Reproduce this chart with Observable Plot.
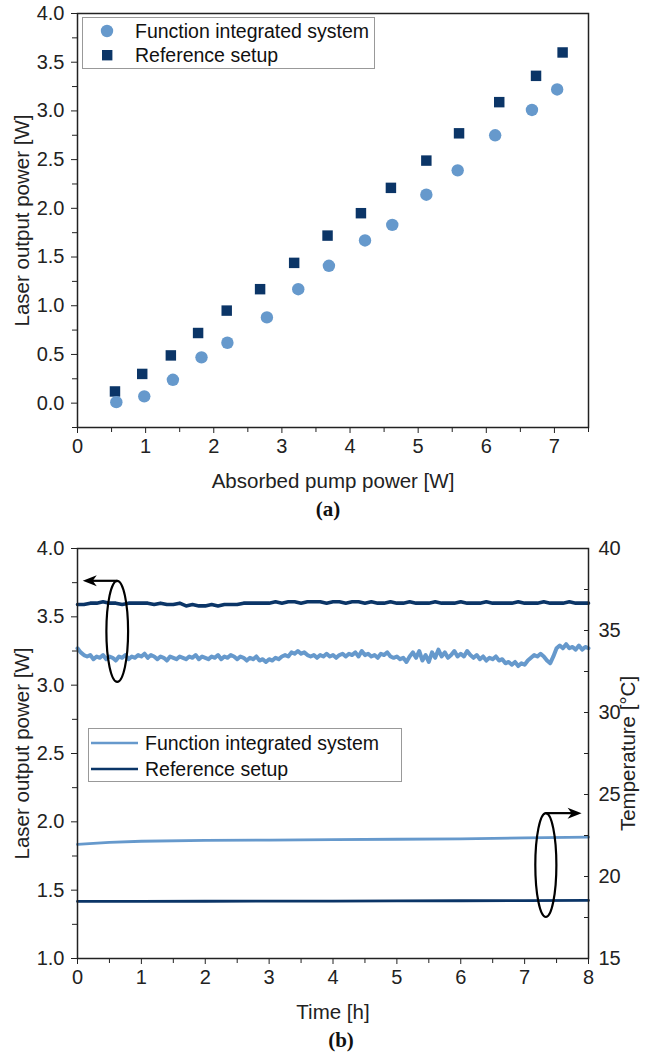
<!DOCTYPE html>
<html><head><meta charset="utf-8">
<script src="https://cdn.jsdelivr.net/npm/d3@7"></script>
<script src="https://cdn.jsdelivr.net/npm/@observablehq/plot@0.6"></script>
<style>
body{margin:0;background:#fff;width:651px;height:1058px;position:relative;overflow:hidden;font-family:"Liberation Sans",Arial,Helvetica,sans-serif;}
#a{position:absolute;left:0;top:0}
#b{position:absolute;left:0;top:535px}
svg g[aria-label$="tick label"], svg g[aria-label$="tick label"] text{font-size:20px !important;}
svg g[aria-label="x-axis label"], svg g[aria-label="x-axis label"] text,
svg g[aria-label="y-axis label"], svg g[aria-label="y-axis label"] text{font-size:20.5px !important;}
.legend{position:absolute;border:1px solid #999;background:#fff;font-size:19.5px;color:#111;box-sizing:border-box}
.legend .row{position:absolute;left:0;height:24px;line-height:24px;white-space:nowrap}
.legend svg{position:absolute;top:0}
.legend span{position:absolute;top:0}
.cap{position:absolute;font-family:"Liberation Serif","Times New Roman",serif;font-weight:bold;font-size:21px;transform:translate(-50%,-50%);color:#111}
</style></head><body>
<div id="a"></div><div id="b"></div>
<div class="cap" style="left:328px;top:509px">(a)</div>
<div class="cap" style="left:341px;top:1040px">(b)</div>
<script>
const light = "#6699cc", navy = "#0b3567";
const font = "Liberation Sans, Arial, Helvetica, sans-serif";
const seriesNames = ["Function integrated system", "Reference setup"];

// ---- (a) data ----
const pumpFIS = [0.57, 0.98, 1.40, 1.82, 2.20, 2.78, 3.24, 3.69, 4.22, 4.62, 5.12, 5.58, 6.13, 6.67, 7.04];
const outFIS  = [0.01, 0.07, 0.24, 0.47, 0.62, 0.88, 1.17, 1.41, 1.67, 1.83, 2.14, 2.39, 2.75, 3.01, 3.22];
const pumpRef = [0.55, 0.95, 1.37, 1.77, 2.19, 2.68, 3.18, 3.67, 4.16, 4.60, 5.12, 5.60, 6.19, 6.73, 7.12];
const outRef  = [0.12, 0.30, 0.49, 0.72, 0.95, 1.17, 1.44, 1.72, 1.95, 2.21, 2.49, 2.77, 3.09, 3.36, 3.60];
const xTicksA = [0, 1, 2, 3, 4, 5, 6, 7];
const xMinorA = [0.5, 1.5, 2.5, 3.5, 4.5, 5.5, 6.5, 7.5];
const yTicksA = [0.0, 0.5, 1.0, 1.5, 2.0, 2.5, 3.0, 3.5, 4.0];
const yMinorA = [-0.25, 0.25, 0.75, 1.25, 1.75, 2.25, 2.75, 3.25, 3.75];

// ---- (b) data ----
const timeF = [0,0.05,0.1,0.15,0.2,0.25,0.3,0.35,0.4,0.45,0.5,0.55,0.6,0.65,0.7,0.75,0.8,0.85,0.9,0.95,
  1,1.05,1.1,1.15,1.2,1.25,1.3,1.35,1.4,1.45,1.5,1.55,1.6,1.65,1.7,1.75,1.8,1.85,1.9,1.95,
  2,2.05,2.1,2.15,2.2,2.25,2.3,2.35,2.4,2.45,2.5,2.55,2.6,2.65,2.7,2.75,2.8,2.85,2.9,2.95,
  3,3.05,3.1,3.15,3.2,3.25,3.3,3.35,3.4,3.45,3.5,3.55,3.6,3.65,3.7,3.75,3.8,3.85,3.9,3.95,
  4,4.05,4.1,4.15,4.2,4.25,4.3,4.35,4.4,4.45,4.5,4.55,4.6,4.65,4.7,4.75,4.8,4.85,4.9,4.95,
  5,5.05,5.1,5.15,5.2,5.25,5.3,5.35,5.4,5.45,5.5,5.55,5.6,5.65,5.7,5.75,5.8,5.85,5.9,5.95,
  6,6.05,6.1,6.15,6.2,6.25,6.3,6.35,6.4,6.45,6.5,6.55,6.6,6.65,6.7,6.75,6.8,6.85,6.9,6.95,
  7,7.05,7.1,7.15,7.2,7.25,7.3,7.35,7.4,7.45,7.5,7.55,7.6,7.65,7.7,7.75,7.8,7.85,7.9,7.95,8];
const powerFIS = [3.27,3.24,3.22,3.21,3.22,3.19,3.21,3.20,3.22,3.19,3.21,3.20,3.18,3.21,3.20,3.22,3.19,3.21,3.20,3.22,
  3.21,3.23,3.20,3.22,3.21,3.19,3.21,3.20,3.18,3.21,3.20,3.19,3.21,3.20,3.19,3.21,3.20,3.22,3.19,3.21,
  3.20,3.19,3.21,3.20,3.22,3.19,3.21,3.20,3.22,3.21,3.19,3.21,3.20,3.18,3.20,3.19,3.21,3.18,3.19,3.17,
  3.19,3.18,3.20,3.19,3.21,3.22,3.21,3.24,3.23,3.25,3.23,3.24,3.22,3.21,3.22,3.20,3.22,3.21,3.23,3.21,
  3.22,3.20,3.22,3.23,3.21,3.23,3.22,3.24,3.21,3.25,3.22,3.23,3.21,3.22,3.20,3.23,3.22,3.24,3.21,3.20,
  3.21,3.19,3.20,3.17,3.21,3.24,3.20,3.25,3.18,3.22,3.17,3.24,3.20,3.26,3.21,3.24,3.20,3.22,3.25,3.21,
  3.23,3.21,3.25,3.22,3.20,3.22,3.19,3.21,3.18,3.20,3.19,3.21,3.18,3.19,3.16,3.17,3.15,3.17,3.14,3.16,
  3.15,3.18,3.20,3.22,3.21,3.23,3.21,3.18,3.16,3.21,3.27,3.29,3.27,3.30,3.27,3.28,3.26,3.29,3.26,3.28,3.27];
const timeR = [0,0.1,0.2,0.3,0.4,0.5,0.6,0.7,0.8,0.9,1.0,1.1,1.2,1.3,1.4,1.5,1.6,1.7,1.8,1.9,2.0,2.1,2.2,2.3,2.4,2.5,2.6,2.7,2.8,2.9,3.0,3.1,3.2,3.3,3.4,3.5,3.6,3.7,3.8,3.9,4.0,4.1,4.2,4.3,4.4,4.5,4.6,4.7,4.8,4.9,5.0,5.1,5.2,5.3,5.4,5.5,5.6,5.7,5.8,5.9,6.0,6.1,6.2,6.3,6.4,6.5,6.6,6.7,6.8,6.9,7.0,7.1,7.2,7.3,7.4,7.5,7.6,7.7,7.8,7.9,8.0];
const powerRef = [3.59,3.59,3.60,3.60,3.61,3.60,3.60,3.59,3.60,3.60,3.60,3.60,3.59,3.60,3.59,3.59,3.60,3.58,3.59,3.58,3.58,3.59,3.58,3.59,3.59,3.59,3.60,3.60,3.60,3.60,3.60,3.61,3.60,3.61,3.61,3.60,3.61,3.61,3.61,3.60,3.61,3.61,3.60,3.61,3.61,3.60,3.61,3.60,3.60,3.61,3.60,3.60,3.61,3.60,3.60,3.60,3.61,3.60,3.60,3.60,3.61,3.60,3.60,3.60,3.61,3.60,3.60,3.60,3.60,3.61,3.60,3.60,3.60,3.61,3.60,3.60,3.60,3.61,3.60,3.60,3.60];
const timeT = [0, 0.5, 1, 2, 3, 4, 5, 6, 7, 8];
const tempFIS = [21.96, 22.08, 22.15, 22.20, 22.22, 22.25, 22.27, 22.30, 22.35, 22.40];
const tempRef = [18.48, 18.48, 18.48, 18.49, 18.50, 18.50, 18.51, 18.52, 18.53, 18.54];
const xTicksB = [0, 1, 2, 3, 4, 5, 6, 7, 8];
const xMinorB = [0.5, 1.5, 2.5, 3.5, 4.5, 5.5, 6.5, 7.5];
const yTicksB = [1.0, 1.5, 2.0, 2.5, 3.0, 3.5, 4.0];
const yMinorB = [1.25, 1.75, 2.25, 2.75, 3.25, 3.75];
const tTicks = [15, 20, 25, 30, 35, 40];
const tMinor = [17.5, 22.5, 27.5, 32.5, 37.5];
// annotation: ellipses (time, power centre, half-width h, half-height W) and arrows
const ellT = [0.63, 7.34], ellW = [3.39, 1.68], ellRT = [0.17, 0.165], ellRW = [0.37, 0.38];
const arrT1 = [0.63, 7.34], arrW = [3.76, 2.06], arrT2 = [0.09, 7.90];

// temperature axis (right) mapped onto power axis: 15..40 °C <-> 1..4 W
const tToW = T => 1 + (T - 15) * 3 / 25;
const wToT = W => 15 + (W - 1) * 25 / 3;

const dA_F = pumpFIS.map((x, i) => ({x, y: outFIS[i]}));
const dA_R = pumpRef.map((x, i) => ({x, y: outRef[i]}));

const axisStyle = {stroke: "#222", fill: "#222"};
const TICK_FS = 20, LABEL_FS = 20.5;

const plotA = Plot.plot({
  width: 651, height: 495,
  marginLeft: 77, marginRight: 63, marginTop: 13, marginBottom: 68,
  style: {fontFamily: font, fontSize: LABEL_FS + "px", color: "#222", background: "white", overflow: "visible"},
  x: {domain: [0, 7.5]},
  y: {domain: [-0.25, 4]},
  marks: [
    Plot.axisX(xMinorA, {tickSize: 5, tickFormat: () => "", label: null, ...axisStyle}),
    Plot.axisX(xTicksA, {tickSize: 6, tickPadding: 5, tickFormat: d => String(d), fontSize: TICK_FS,
      label: "Absorbed pump power [W]", labelAnchor: "center", labelOffset: 60, labelArrow: "none", ...axisStyle}),
    Plot.axisY(yMinorA, {tickSize: 5, tickFormat: () => "", label: null, ...axisStyle}),
    Plot.axisY(yTicksA, {tickSize: 6, tickPadding: 7, tickFormat: d => d.toFixed(1), fontSize: TICK_FS,
      label: "Laser output power [W]", labelAnchor: "center", labelOffset: 63, labelArrow: "none", ...axisStyle}),
    Plot.dot(dA_R, {x: "x", y: "y", symbol: "square", r: 5.9, fill: navy}),
    Plot.dot(dA_F, {x: "x", y: "y", symbol: "circle", r: 6.2, fill: light}),
    Plot.frame({stroke: "#222", strokeWidth: 1.5})
  ]
});
document.getElementById("a").appendChild(plotA);

const dPF = timeF.map((t, i) => ({t, w: powerFIS[i]}));
const dPR = timeR.map((t, i) => ({t, w: powerRef[i]}));
const dTF = timeT.map((t, i) => ({t, w: tToW(tempFIS[i])}));
const dTR = timeT.map((t, i) => ({t, w: tToW(tempRef[i])}));

const ns = "http://www.w3.org/2000/svg";
const annotations = (index, scales) => {
  const {x, y} = scales;
  const g = document.createElementNS(ns, "g");
  ellT.forEach((t, i) => {
    const e = document.createElementNS(ns, "ellipse");
    const cx = x(t), cy = y(ellW[i]);
    e.setAttribute("cx", cx); e.setAttribute("cy", cy);
    e.setAttribute("rx", Math.abs(x(t + ellRT[i]) - cx));
    e.setAttribute("ry", Math.abs(y(ellW[i] + ellRW[i]) - cy));
    e.setAttribute("fill", "none"); e.setAttribute("stroke", "#000"); e.setAttribute("stroke-width", 2.2);
    g.appendChild(e);
  });
  arrT1.forEach((t, i) => {
    const x1 = x(t), x2 = x(arrT2[i]), yy = y(arrW[i]);
    const dir = Math.sign(x2 - x1);
    const l = document.createElementNS(ns, "line");
    l.setAttribute("x1", x1); l.setAttribute("x2", x2 - dir * 8);
    l.setAttribute("y1", yy); l.setAttribute("y2", yy);
    l.setAttribute("stroke", "#000"); l.setAttribute("stroke-width", 2.2);
    g.appendChild(l);
    const p = document.createElementNS(ns, "path");
    const b = x2 - dir * 14, n = x2 - dir * 10;
    p.setAttribute("d", `M${x2},${yy}L${b},${yy - 5.5}L${n},${yy}L${b},${yy + 5.5}Z`);
    p.setAttribute("fill", "#000");
    g.appendChild(p);
  });
  return g;
};

const plotB = Plot.plot({
  width: 651, height: 490,
  marginLeft: 77, marginRight: 63, marginTop: 13, marginBottom: 67,
  style: {fontFamily: font, fontSize: LABEL_FS + "px", color: "#222", background: "white", overflow: "visible"},
  x: {domain: [0, 8]},
  y: {domain: [1, 4]},
  marks: [
    Plot.line(dPR, {x: "t", y: "w", stroke: navy, strokeWidth: 3.6}),
    Plot.line(dPF, {x: "t", y: "w", stroke: light, strokeWidth: 4}),
    Plot.line(dTF, {x: "t", y: "w", stroke: light, strokeWidth: 2.8}),
    Plot.line(dTR, {x: "t", y: "w", stroke: navy, strokeWidth: 2.8}),
    annotations,
    Plot.axisX(xMinorB, {tickSize: 5, tickFormat: () => "", label: null, ...axisStyle}),
    Plot.axisX(xTicksB, {tickSize: 6, tickPadding: 5, tickFormat: d => String(d), fontSize: TICK_FS,
      label: "Time [h]", labelAnchor: "center", labelOffset: 60, labelArrow: "none", ...axisStyle}),
    Plot.axisY(yMinorB, {tickSize: 5, tickFormat: () => "", label: null, ...axisStyle}),
    Plot.axisY(yTicksB, {tickSize: 6, tickPadding: 7, tickFormat: d => d.toFixed(1), fontSize: TICK_FS,
      label: "Laser output power [W]", labelAnchor: "center", labelOffset: 63, labelArrow: "none", ...axisStyle}),
    Plot.axisY(tMinor.map(tToW), {anchor: "right", tickSize: -5, tickFormat: () => "", label: null, ...axisStyle}),
    Plot.axisY(tTicks.map(tToW), {anchor: "right", tickSize: -5, tickPadding: 15, tickFormat: d => String(Math.round(wToT(d))), fontSize: TICK_FS,
      label: "Temperature [°C]", labelAnchor: "center", labelOffset: 46, labelArrow: "none", ...axisStyle}),
    Plot.frame({stroke: "#222", strokeWidth: 1.5})
  ]
});
document.getElementById("b").appendChild(plotB);

// legends
function legend(left, top, width, height, rows, kind) {
  const box = document.createElement("div");
  box.className = "legend";
  Object.assign(box.style, {left: left + "px", top: top + "px", width: width + "px", height: height + "px"});
  rows.forEach((r, i) => {
    const row = document.createElement("div");
    row.className = "row";
    row.style.top = r.top + "px";
    row.style.width = "100%";
    let sw;
    if (kind === "marker") {
      sw = `<svg width="30" height="24" style="left:10px">` + (r.symbol === "circle"
        ? `<circle cx="14" cy="12" r="6.2" fill="${r.color}"/>`
        : `<rect x="9" y="7" width="10.4" height="10.4" fill="${r.color}"/>`) + `</svg>`;
    } else {
      sw = `<svg width="50" height="24" style="left:2px"><line x1="0" x2="47" y1="12" y2="12" stroke="${r.color}" stroke-width="2.6"/></svg>`;
    }
    row.innerHTML = sw + `<span style="left:${r.textLeft}px">${r.label}</span>`;
    box.appendChild(row);
  });
  document.body.appendChild(box);
}
legend(82, 17, 293, 52, [
  {top: 1, symbol: "circle", color: light, label: seriesNames[0], textLeft: 52},
  {top: 25, symbol: "square", color: navy, label: seriesNames[1], textLeft: 52}
], "marker");
legend(88, 728, 314, 54, [
  {top: 2, color: light, label: seriesNames[0], textLeft: 56},
  {top: 28, color: navy, label: seriesNames[1], textLeft: 56}
], "line");
</script>
</body></html>
